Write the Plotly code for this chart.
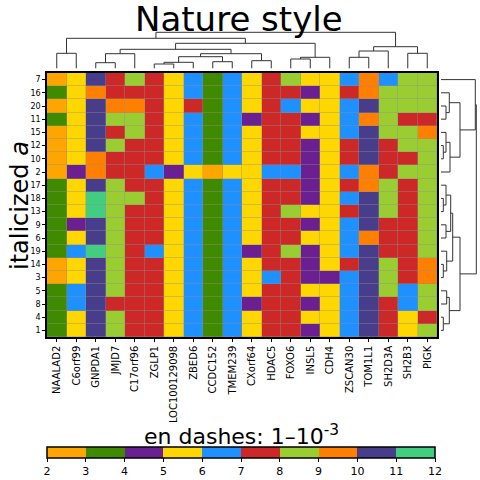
import plotly.graph_objects as go

col_labels = ["NAALAD2", "C6orf99", "GNPDA1", "JMJD7", "C17orf96", "ZGLP1", "LOC100129098",
              "ZBED6", "CCDC152", "TMEM239", "CXorf64", "HDAC5", "FOXO6", "INSL5", "CDH4",
              "ZSCAN30", "TOM1L1", "SH2D3A", "SH2B3", "PIGK"]
row_labels = ["7", "16", "20", "11", "15", "12", "10", "2", "17", "18", "13", "9", "6", "19",
              "14", "3", "5", "8", "4", "1"]

# class value of each cell (bins 2..11 of the colour bar), rows top to bottom
values = [
    [2, 5, 10, 7, 8, 7, 5, 6, 3, 6, 5, 7, 8, 5, 5, 6, 9, 6, 8, 8],
    [3, 5, 9, 7, 7, 7, 5, 6, 3, 6, 5, 7, 7, 4, 5, 7, 9, 8, 8, 8],
    [2, 5, 10, 9, 9, 7, 5, 7, 3, 6, 5, 7, 6, 5, 5, 6, 10, 8, 8, 8],
    [3, 5, 10, 8, 8, 7, 5, 6, 3, 6, 4, 7, 7, 4, 5, 6, 9, 8, 7, 7],
    [2, 5, 10, 7, 8, 7, 5, 6, 3, 6, 5, 7, 7, 5, 5, 6, 10, 8, 8, 9],
    [2, 5, 10, 8, 7, 7, 5, 6, 3, 6, 5, 7, 7, 4, 5, 7, 10, 7, 8, 8],
    [2, 5, 9, 7, 7, 7, 5, 6, 3, 6, 5, 7, 7, 4, 5, 7, 10, 7, 7, 8],
    [2, 4, 9, 7, 7, 6, 4, 5, 2, 5, 5, 6, 6, 4, 5, 6, 9, 7, 8, 8],
    [3, 5, 10, 8, 7, 7, 5, 6, 3, 6, 5, 7, 7, 4, 5, 7, 9, 8, 7, 8],
    [3, 5, 11, 8, 8, 7, 5, 6, 3, 6, 5, 7, 7, 4, 5, 6, 10, 8, 7, 8],
    [3, 5, 11, 8, 7, 7, 5, 6, 3, 6, 5, 7, 8, 5, 5, 7, 10, 8, 7, 8],
    [3, 4, 10, 8, 7, 7, 5, 6, 3, 6, 5, 7, 7, 4, 5, 6, 10, 7, 7, 8],
    [3, 5, 10, 8, 7, 7, 5, 6, 3, 6, 5, 7, 7, 5, 5, 6, 9, 7, 7, 8],
    [3, 6, 11, 8, 7, 6, 5, 6, 3, 6, 4, 7, 8, 4, 5, 6, 10, 7, 7, 8],
    [2, 5, 10, 8, 7, 7, 5, 6, 3, 6, 5, 7, 7, 4, 5, 7, 10, 8, 7, 9],
    [2, 5, 10, 8, 7, 7, 5, 6, 3, 6, 5, 6, 7, 4, 4, 6, 10, 8, 7, 9],
    [3, 6, 10, 8, 7, 7, 5, 6, 3, 6, 5, 7, 7, 5, 5, 6, 10, 8, 6, 8],
    [3, 6, 10, 7, 7, 7, 5, 6, 3, 6, 4, 7, 7, 4, 5, 6, 10, 7, 6, 8],
    [3, 5, 10, 8, 7, 7, 5, 6, 3, 6, 5, 7, 7, 5, 5, 6, 10, 7, 5, 7],
    [3, 5, 10, 8, 7, 7, 5, 6, 3, 6, 5, 7, 7, 4, 5, 6, 10, 7, 5, 8],
]

bin_colors = ["#FFA500", "#408A00", "#6A2090", "#FFD700", "#1E90FF",
              "#CC2828", "#9ACD32", "#FF7F00", "#483D8B", "#43CD80"]
cbar_ticks = [2, 3, 4, 5, 6, 7, 8, 9, 10, 11, 12]

# dendrogram merges: (node a, node b, height); new node ids start at 20
col_links = [(0, 1, 15), (2, 3, 5.6), (21, 4, 14.6), (5, 6, 4.3), (23, 7, 6), (8, 9, 6.6),
             (24, 25, 11.6), (10, 11, 7.6), (26, 27, 14.6), (22, 28, 19), (12, 13, 9.3),
             (30, 14, 11), (29, 31, 25), (20, 32, 30), (15, 16, 11), (34, 17, 17.3),
             (18, 19, 15), (35, 36, 21.6), (33, 37, 36)]
row_links = [(2, 3, 5), (1, 20, 8.3), (5, 6, 2.3), (4, 22, 5), (23, 7, 9), (21, 24, 19),
             (0, 25, 34.3), (9, 10, 2.3), (8, 27, 5), (11, 12, 5), (28, 29, 9.7),
             (14, 15, 2.3), (13, 31, 5.7), (30, 32, 11.7), (16, 17, 5.7), (18, 19, 2.3),
             (34, 35, 8.3), (33, 36, 19), (26, 37, 35.3)]


def dendro_paths(n, links):
    pos = {i: float(i) for i in range(n)}
    hgt = {i: 0.0 for i in range(n)}
    ps, hs = [], []
    for k, (a, b, h) in enumerate(links):
        ps += [pos[a], pos[a], pos[b], pos[b], None]
        hs += [hgt[a], h, h, hgt[b], None]
        pos[n + k] = (pos[a] + pos[b]) / 2
        hgt[n + k] = h
    return ps, hs


ncol, nrow = len(col_labels), len(row_labels)
z = [[v + 0.5 for v in r] for r in values]

cs = []
nb = len(bin_colors)
for i, c in enumerate(bin_colors):
    cs.append([i / nb, c])
    cs.append([(i + 1) / nb, c])

W = H = 480.0
hx0, hx1, hy0, hy1 = 47, 437, 73, 337
font = "DejaVu Sans"

fig = go.Figure()
fig.add_trace(go.Heatmap(
    z=z, x=list(range(ncol)), y=list(range(nrow)),
    colorscale=cs, zmin=2, zmax=12, xgap=0.4, ygap=0.4,
    colorbar=dict(
        orientation="h", x=(47 + 435) / 2 / W, xanchor="center",
        y=1 - 447 / H, yanchor="top", len=388 / W, lenmode="fraction",
        thickness=11, xpad=0, ypad=0,
        outlinewidth=1.5, outlinecolor="black",
        tickvals=cbar_ticks, ticks="outside", ticklen=4, tickcolor="black",
        tickfont=dict(family=font, size=11, color="black"),
    ),
    hoverongaps=False,
))

cx, ch = dendro_paths(ncol, col_links)
fig.add_trace(go.Scatter(x=cx, y=ch, mode="lines", xaxis="x2", yaxis="y2",
                         line=dict(color="#333333", width=1), hoverinfo="skip",
                         showlegend=False))
rp, rh = dendro_paths(nrow, row_links)
fig.add_trace(go.Scatter(x=rh, y=rp, mode="lines", xaxis="x3", yaxis="y3",
                         line=dict(color="#333333", width=1), hoverinfo="skip",
                         showlegend=False))

xd = [hx0 / W, hx1 / W]
yd = [1 - hy1 / H, 1 - hy0 / H]

fig.add_shape(type="rect", xref="x", yref="y", x0=-0.5, x1=ncol - 0.5, y0=-0.5, y1=nrow - 0.5,
              fillcolor="#909090", line=dict(width=0), layer="below")

fig.update_layout(
    width=480, height=480, margin=dict(l=0, r=0, t=0, b=0),
    paper_bgcolor="white", plot_bgcolor="white", showlegend=False,
    font=dict(family=font, color="black"),
    xaxis=dict(domain=xd, range=[-0.5, ncol - 0.5], tickvals=list(range(ncol)),
               ticktext=col_labels, tickangle=-90, ticks="outside", ticklen=3,
               tickcolor="black", tickfont=dict(family=font, size=10, color="black"),
               showline=True, mirror=True, linecolor="black", linewidth=1.5,
               showgrid=False, zeroline=False, anchor="y"),
    yaxis=dict(domain=yd, range=[nrow - 0.5, -0.5], tickvals=list(range(nrow)),
               ticktext=row_labels, ticks="outside", ticklen=3, tickcolor="black",
               tickfont=dict(family=font, size=8, color="black"),
               showline=True, mirror=True, linecolor="black", linewidth=1.5,
               showgrid=False, zeroline=False, anchor="x"),
    xaxis2=dict(domain=xd, range=[-0.5, ncol - 0.5], visible=False, anchor="y2"),
    yaxis2=dict(domain=[1 - hy0 / H, 1 - 30 / H], range=[-4.7, 38.3], visible=False,
                anchor="x2"),
    xaxis3=dict(domain=[hx1 / W, 479 / W], range=[-4, 38], visible=False, anchor="y3"),
    yaxis3=dict(domain=yd, range=[nrow - 0.5, -0.5], visible=False, anchor="x3"),
    annotations=[
        dict(text="Nature style", x=239 / W, y=1 - 18.5 / H, xref="paper", yref="paper",
             xanchor="center", yanchor="middle", showarrow=False,
             font=dict(family=font, size=34, color="black")),
        dict(text="italicized <i>a</i>", x=20 / W, y=1 - 206 / H, xref="paper",
             yref="paper", xanchor="center", yanchor="middle", textangle=-90,
             showarrow=False, font=dict(family=font, size=24, color="black")),
        dict(text="en dashes: 1–10<sup>-3</sup>", x=241 / W, y=1 - 435 / H, xref="paper",
             yref="paper", xanchor="center", yanchor="middle", showarrow=False,
             font=dict(family=font, size=22, color="black")),
    ],
)

fig.write_html("out.html")
